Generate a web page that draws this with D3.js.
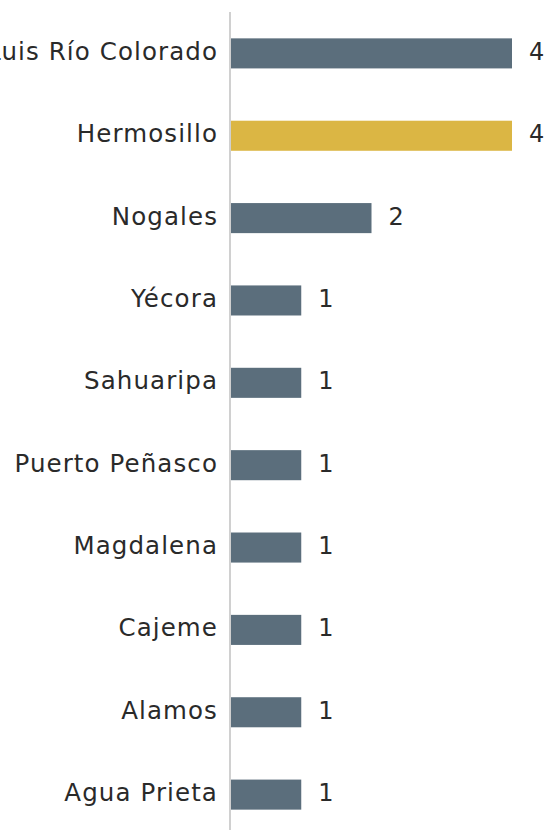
<!DOCTYPE html>
<meta charset="utf-8">
<style>
  body { margin: 0; background: #fff; }
  text { font-family: "DejaVu Sans", "Noto Sans", sans-serif; fill: #2a2a2a; }
</style>
<body>
<script src="https://d3js.org/d3.v7.min.js"></script>
<div id="chart"></div>
<script>

// municipalities, top to bottom
var categories = ["Luis Río Colorado", "Hermosillo", "Nogales", "Yécora", "Sahuaripa",
                  "Puerto Peñasco", "Magdalena", "Cajeme", "Alamos", "Agua Prieta"];
var values = [4, 4, 2, 1, 1, 1, 1, 1, 1, 1];
var highlight = "Hermosillo";

var width = 551, height = 830;
var margin = {top: 12, left: 231};

var x = d3.scaleLinear()
          .domain([0, 4])
          .range([margin.left, 512]);

var y = d3.scaleBand()
          .domain(categories)
          .range([12, 836])
          .paddingInner(0.635)
          .paddingOuter(0.32);

var svg = d3.select("#chart")
  .append("svg")
    .attr("width", width)
    .attr("height", height);

var data = categories.map(function(c, i) { return {name: c, value: values[i]}; });

// bars
svg.selectAll(".bar")
  .data(data)
  .enter()
  .append("rect")
    .attr("class", "bar")
    .attr("x", x(0))
    .attr("y", function(d) { return y(d.name); })
    .attr("width", function(d) { return x(d.value) - x(0); })
    .attr("height", y.bandwidth())
    .style("fill", function(d) { return d.name == highlight ? "#dbb644" : "#5b6e7c"; });

// vertical axis line
svg.append("line")
    .attr("x1", 230).attr("x2", 230)
    .attr("y1", 12).attr("y2", height)
    .style("stroke", "#d0d0d0")
    .style("stroke-width", 2);

// category labels
svg.selectAll(".cat")
  .data(data)
  .enter()
  .append("text")
    .attr("class", "cat")
    .attr("x", 218)
    .attr("y", function(d) { return y(d.name) + y.bandwidth() / 2 + 6.5; })
    .attr("text-anchor", "end")
    .style("font-size", "24.5px")
    .style("letter-spacing", "1.1px")
    .text(function(d) { return d.name; });

// value labels
svg.selectAll(".val")
  .data(data)
  .enter()
  .append("text")
    .attr("class", "val")
    .attr("x", function(d) { return x(d.value) + 17; })
    .attr("y", function(d) { return y(d.name) + y.bandwidth() / 2 + 6.5; })
    .style("font-size", "24px")
    .text(function(d) { return d.value; });

</script>
</body>
